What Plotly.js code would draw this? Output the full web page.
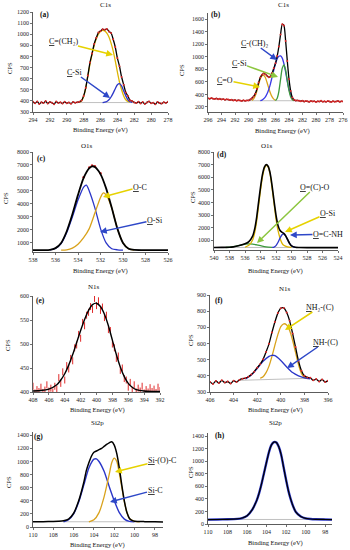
<!DOCTYPE html>
<html><head><meta charset="utf-8">
<script src="https://cdn.plot.ly/plotly-3.0.1.min.js"></script>
<style>html,body{margin:0;padding:0;background:#fff}#chart{width:350px;height:550px}</style>
</head><body><div id="chart"></div>
<script>
// ---------- helpers for evenly spaced energy grids ----------
function seq(a, b, s) { const r = []; const n = Math.round((b - a) / s); for (let i = 0; i <= n; i++) r.push(+(a + i * s).toFixed(2)); return r; }

// ---------- (a) C1s ----------
const aRawX = seq(294, 278, -0.25);
const aRaw = [392,378,395,372,388,380,398,376,390,383,370,394,381,387,376,392,379,386,374,390,383,388,
  392,403,445,518,628,745,826,912,968,1015,1028,1045,1040,1048,1025,1012,955,885,785,712,615,545,476,444,405,398,386,
  380,393,377,389,372,386,395,378,384,370,391,380,376,388,382,393];
const aCH2X = seq(288.5, 282.5, -0.25);
const aCH2 = [388,400,440,515,620,730,820,900,960,1000,1025,1035,1030,1010,975,920,850,760,660,570,500,445,410,395,388];
const aSiX = seq(285.75, 282.25, -0.25);
const aSi = [385,388,395,410,435,470,510,545,555,535,490,445,410,392,386];
const aBaseX = [288.5, 282], aBase = [385, 385];

// ---------- (b) C1s ----------
const bRawX = seq(296, 276, -0.25);
const bRaw = [338,330,342,333,328,336,324,331,320,327,315,322,318,310,316,305,312,300,308,302,296,306,299,304,
  305,318,340,368,412,488,590,672,715,738,722,698,676,688,742,818,898,1012,1165,1358,1520,1500,1255,932,645,455,352,315,302,
  305,298,292,300,286,295,290,282,296,288,293,280,291,286,298,284,290,282,294,287,280,292,285,289,296,283,291,288];
const bCOX = seq(289.5, 286, -0.25);
const bCO = [305,330,380,460,560,650,700,705,670,590,500,420,360,325,305];
const bCHX = seq(288.25, 283, -0.25);
const bCH = [300,310,330,360,410,480,570,680,790,890,970,1010,1015,980,890,760,610,480,390,335,310,300];
const bSiX = seq(286, 283.25, -0.25);
const bSi = [300,340,450,640,820,870,790,620,460,360,315,300];
const bBaseX = [290, 283], bBase = [300, 300];

// ---------- (c) O1s ----------
const cEnvX = [538,537,536.5,536,535.5,535,534.5,534,533.5,533,532.75,532.5,532,531.5,531,530.5,530,529.5,529,528,526];
const cEnv = [450,450,470,600,1000,1900,3200,4700,6000,6750,6900,6850,6300,5200,3700,2100,1000,550,460,450,450];
const cOSiX = [536.5,536,535.5,535,534.5,534,533.5,533.25,533,532.5,532,531.5,531,530.5,530];
const cOSi = [460,580,950,1800,3000,4300,5300,5450,5000,3700,2100,1000,550,470,450];
const cOCX = [535.5,535,534.5,534,533.5,533,532.5,532,531.75,531.5,531,530.5,530,529.5,529];
const cOC = [450,470,600,900,1400,2100,3300,4500,4850,4700,3700,2100,1000,550,450];

// ---------- (d) O1s ----------
const dEnvX = [540,539,538,537.5,537,536.5,536,535.5,535,534.75,534.5,534.25,534,533.75,533.5,533.25,533,532.75,532.5,532.25,532,531.75,531.5,531.25,531,530.75,530.5,530.25,530,529.5,529,528,524];
const dEnv = [430,440,450,480,540,620,720,900,1350,1900,2800,4000,5200,6200,6800,7000,6850,6300,5300,4100,3000,2200,1800,1650,1550,1350,1050,750,560,450,430,420,420];
const dOSiX = [536,535.5,535,534.75,534.5,534.25,534,533.75,533.5,533.25,533,532.75,532.5,532.25,532,531.75,531.5,531.25,531,530.5,530];
const dOSi = [450,600,1050,1600,2500,3700,4950,6000,6700,6950,6800,6200,5100,3900,2700,1800,1200,800,600,470,440];
const dOCOX = [538.5,538,537.5,537,536.5,536,535.5,535,534.5,534,533.5,533,532.5];
const dOCO = [430,450,490,550,620,690,720,700,640,570,500,460,440];
const dNHX = [532.5,532.25,532,531.75,531.5,531.25,531,530.75,530.5,530.25,530,529.75,529.5];
const dNH = [430,460,580,820,1150,1420,1500,1350,1050,750,560,470,430];
const dBaseX = [538, 529.5], dBase = [430, 430];

// ---------- (e) N1s ----------
const eRawX = seq(408, 392, -0.25);
const eRaw = [412,398,405,401,410,399,404,415,402,408,400,412,406,430,418,442,425,455,448,470,465,492,498,520,512,545,538,560,566,578,572,595,580,590,570,577,555,560,530,528,500,492,470,475,445,450,428,425,410,420,403,415,400,408,402,412,398,405,400,409,401,406,399,410,403];
const eFitX = [408,407,406,405,404.5,404,403.5,403,402.5,402,401.5,401,400.5,400,399.5,399,398.5,398,397.5,397,396.5,396,395.5,395,394,393,392];
const eFit = [402,403,406,415,425,438,456,478,503,528,551,570,582,585,578,562,538,508,478,452,432,418,410,405,402,401,401];

// ---------- (f) N1s ----------
const fRawX = seq(406, 396, -0.25);
const fRaw = [362,350,368,355,372,358,365,352,370,362,375,
  382,386,394,408,426,450,472,502,548,598,668,733,788,818,820,792,740,662,578,492,432,400,390,
  388,372,380,365,378,362,370];
const fNH2X = seq(401.75, 397.75, -0.25);
const fNH2 = [385,395,420,460,520,590,655,705,722,715,680,620,545,470,415,390,382];
const fNHX = [403,402.5,402,401.5,401,400.75,400.5,400,399.5,399,398.5,398,397.5];
const fNH = [380,405,445,490,520,527,525,495,455,420,400,388,382];
const fBaseX = [403.5, 397.5], fBase = [372, 385];

// ---------- (g) Si2p ----------
const gEnvX = [110,109,108,107.5,107,106.5,106,105.5,105,104.75,104.5,104.25,104,103.75,103.5,103.25,103,102.75,102.5,102.25,102,101.75,101.5,101.25,101,100.75,100.5,100.25,100,99,98,97.2];
const gEnv = [80,82,85,88,95,120,210,400,680,860,980,1080,1140,1160,1180,1200,1230,1260,1285,1300,1250,1120,900,630,390,220,130,100,88,82,80,78];
const gSiCX = [107,106.5,106,105.5,105,104.5,104,103.75,103.5,103,102.5,102,101.5,101,100.5,100];
const gSiC = [80,110,200,380,640,900,1035,1040,1000,850,620,400,220,120,85,80];
const gSiOCX = [104.5,104,103.5,103,102.5,102.25,102,101.75,101.5,101.25,101,100.75,100.5,100,99.5];
const gSiOC = [80,110,220,460,800,980,1050,1000,820,600,380,220,130,85,80];
const gBaseX = [107, 100], gBase = [80, 80];

// ---------- (h) Si2p ----------
const hEnvX = [110,109,108,107,106.5,106,105.5,105,104.75,104.5,104.25,104,103.75,103.5,103.25,103,102.75,102.5,102.25,102,101.75,101.5,101.25,101,100.5,100,99.5,99,98,97.3];
const hEnv = [70,72,75,82,95,130,220,380,500,650,820,990,1150,1260,1305,1300,1230,1100,900,700,520,380,270,190,120,90,80,75,72,70];
const hBaseX = [107, 99.5], hBase = [72, 72];

// ---------- texts ----------
const titles = ['C1s','C1s','O1s','O1s','N1s','N1s','Si2p','Si2p'];
const panelTags = ['(a)','(b)','(c)','(d)','(e)','(f)','(g)','(h)'];
const xTitle = 'Binding Energy (eV)';
const yTitle = 'CPS';
const peakLabels = [
  '<u>C</u>=(CH₂)', '<u>C</u>-Si',
  '<u>C</u>-(CH)₂', '<u>C</u>-Si', '<u>C</u>=O',
  '<u>O</u>-C', '<u>O</u>-Si',
  '<u>O</u>=(C)-O', '<u>O</u>-Si', '<u>O</u>=C-NH',
  '<u>N</u>H₂-(C)', '<u>N</u>H-(C)',
  '<u>Si</u>-(O)-C', '<u>Si</u>-C'
];

// ================= drawing =================
const F = 'Liberation Serif';
const W = 350, H = 550;
const ax = k => (k === 1 ? '' : String(k));
function line(k, x, y, color, width, extra) {
  return Object.assign({type:'scatter', mode:'lines', x, y, xaxis:'x'+ax(k), yaxis:'y'+ax(k),
    line:{color, width, shape:'spline', smoothing:0.6}, hoverinfo:'skip', showlegend:false}, extra || {});
}
function dots(k, x, y, color, size) {
  return {type:'scatter', mode:'markers', x, y, xaxis:'x'+ax(k), yaxis:'y'+ax(k),
    marker:{color, size, line:{width:0}}, hoverinfo:'skip', showlegend:false};
}
const BLK = '#000', GRY = '#b0b0b0', RED = '#e02a2a';
const YEL = '#dcb400', ORG = '#d9a21b', BLU = '#2b36c8', GRN = '#3c9a3c';
const thin = {line:{color:GRY, width:0.8}};

const traces = [
  // (a)
  line(1, aBaseX, aBase, GRY, 0.8, thin),
  line(1, aCH2X, aCH2, YEL, 1.3),
  line(1, aSiX, aSi, BLU, 1.3),
  line(1, aRawX, aRaw, BLK, 1.3),
  dots(1, aRawX, aRaw, RED, 2),
  // (b)
  line(2, bBaseX, bBase, GRY, 0.8, thin),
  line(2, bCOX, bCO, ORG, 1.3),
  line(2, bCHX, bCH, '#3a3ae6', 1.3),
  line(2, bSiX, bSi, GRN, 1.3),
  line(2, bRawX, bRaw, BLK, 1.3),
  dots(2, bRawX, bRaw, RED, 2),
  // (c)
  line(3, cOSiX, cOSi, BLU, 1.3),
  line(3, cOCX, cOC, ORG, 1.3),
  dots(3, cEnvX.slice(8, 13), cEnv.slice(8, 13).map(v => v + 60), RED, 2.5),
  line(3, cEnvX, cEnv, BLK, 1.8),
  // (d)
  line(4, dBaseX, dBase, GRY, 0.8, thin),
  line(4, dOCOX, dOCO, GRN, 1.3),
  line(4, dOSiX, dOSi, YEL, 1.3),
  line(4, dNHX, dNH, BLU, 1.3),
  line(4, dEnvX, dEnv, BLK, 1.6),
  // (e)
  {type:'scatter', mode:'markers', x:eRawX, y:eRaw, xaxis:'x5', yaxis:'y5', cliponaxis:true,
    marker:{symbol:'line-ns-open', size:5, color:RED, line:{color:RED, width:1}}, hoverinfo:'skip', showlegend:false},
  line(5, eFitX, eFit, BLK, 1.4),
  // (f)
  line(6, fBaseX, fBase, GRY, 0.8, thin),
  line(6, fNH2X, fNH2, ORG, 1.3),
  line(6, fNHX, fNH, BLU, 1.3),
  line(6, fRawX, fRaw, BLK, 1.3),
  dots(6, fRawX, fRaw, RED, 2),
  // (g)
  line(7, gBaseX, gBase, GRY, 0.8, thin),
  line(7, gSiCX, gSiC, BLU, 1.4),
  line(7, gSiOCX, gSiOC, ORG, 1.3),
  line(7, gEnvX, gEnv, BLK, 1.5),
  // (h)
  line(8, hBaseX, hBase, GRY, 0.8, thin),
  line(8, hEnvX, hEnv, BLU, 2.4),
  line(8, hEnvX, hEnv, BLK, 1.2),
];

// panel boxes in pixels: [left, right, top, bottom]
const boxes = [
  [33,168,12,112],[208,343,13,112],
  [33,168,152,252],[214,338,152,250],
  [33,160,296,392],[210,328,295,392],
  [33,163,432,527],[208,332,433,524]
];
const xr = [[294,278],[296,276],[538,526],[540,524],[408,392],[406,396],[110,97.2],[110,97.3]];
const yr = [[300,1200],[120,1700],[300,8000],[230,8000],[400,600],[300,900],[0,1450],[0,1450]];
const yt = [[300,100],[200,200],[1000,1000],[1000,1000],[400,50],[300,100],[0,200],[0,200]];

const layout = {width:W, height:H, margin:{l:0,r:0,t:0,b:0}, showlegend:false,
  paper_bgcolor:'#fff', plot_bgcolor:'rgba(0,0,0,0)', font:{family:F, size:6, color:'#222'}, annotations:[]};

boxes.forEach((b, i) => {
  const k = i + 1;
  const common = {showgrid:false, zeroline:false, showline:true, linecolor:'#333', linewidth:0.8,
    ticks:'outside', ticklen:2, tickwidth:0.7, tickcolor:'#333', tickfont:{family:F, size:6, color:'#222'},
    fixedrange:true, tickmode:'linear'};
  layout['xaxis'+ax(k)] = Object.assign({}, common, {domain:[b[0]/W, b[1]/W], anchor:'y'+ax(k),
    range:xr[i], autorange:false, tick0:96, dtick:2});
  layout['yaxis'+ax(k)] = Object.assign({}, common, {domain:[1-b[3]/H, 1-b[2]/H], anchor:'x'+ax(k),
    range:yr[i], autorange:false, tick0:yt[i][0], dtick:yt[i][1]});
});

function txt(x, y, text, size, opts) {
  return Object.assign({xref:'paper', yref:'paper', x:x/W, y:1-y/H, text, showarrow:false,
    font:{family:F, size, color:'#111'}, xanchor:'center', yanchor:'middle'}, opts || {});
}
// label centred at (tx,ty) with an arrow pointing to (hx,hy)
function callout(text, tx, ty, hx, hy, color) {
  return {xref:'paper', yref:'paper', x:hx/W, y:1-hy/H, ax:tx-hx, ay:ty-hy, text, showarrow:true,
    font:{family:F, size:8, color:'#111'}, arrowhead:2, arrowsize:0.9, arrowwidth:1.5,
    arrowcolor:color, standoff:0, borderpad:0};
}
const A = layout.annotations;
const titlePos = [[105,5],[283,5],[87,146],[267,146],[94,287],[285,289],[97,423],[275,423]];
const xtPos = [[100,130],[282,131],[100,271],[275,271],[97,410],[275,410],[97,545],[275,543]];
const ytPos = [[9,68],[182,70],[5,198],[192,197],[7,345],[190,340],[8,482],[190,472]];
const tagPos = [[44,15],[216,15],[41,158],[222,155],[40,300],[219,300],[38,436],[220,435]];
for (let i = 0; i < 8; i++) {
  A.push(txt(titlePos[i][0], titlePos[i][1], titles[i], 7));
  A.push(txt(xtPos[i][0], xtPos[i][1], xTitle, 6.5));
  A.push(txt(ytPos[i][0], ytPos[i][1], yTitle, 6.5, {textangle:-90}));
  A.push(txt(tagPos[i][0], tagPos[i][1], '<b>' + panelTags[i] + '</b>', 7.5));
}
const AY = '#e6d200', AB = '#2e48c8', AG = '#8cc63f';
const calloutPos = [
  [63,42,113,55,AY], [74,72,110,98,AB],
  [254,43,277,60,AB], [239,63,278,77,AG], [225,80,260,87,AY],
  [140,187,103,197,AY], [155,220,100,232,AB],
  [315,187,257,243,AG], [328,213,285,232,AY], [328,234,290,235,AB],
  [320,307,285,330,AY], [325,342,287,368,AB],
  [162,460,115,472,AY], [155,490,110,502,AB]
];
calloutPos.forEach((p, i) => A.push(callout(peakLabels[i], p[0], p[1], p[2], p[3], p[4])));

Plotly.newPlot('chart', traces, layout, {staticPlot:true, displayModeBar:false});
</script>
</body></html>
